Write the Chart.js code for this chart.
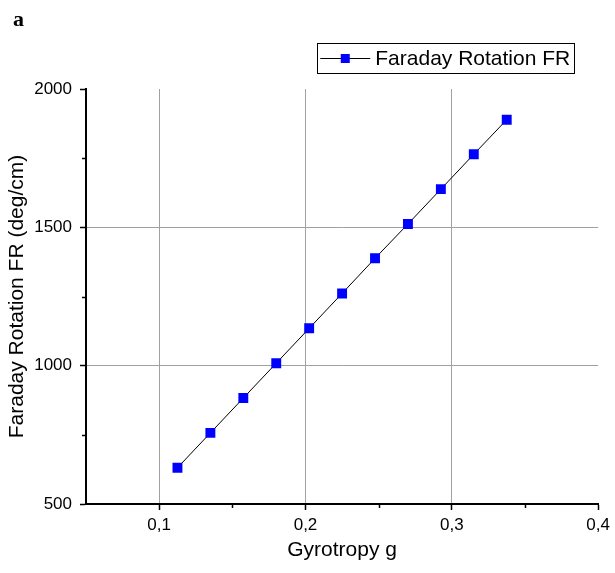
<!DOCTYPE html>
<html>
<head>
<meta charset="utf-8">
<script src="https://cdn.jsdelivr.net/npm/chart.js@4"></script>
<style>
  html, body { margin: 0; padding: 0; background: #fff; }
  #wrap { width: 615px; height: 573px; }
</style>
</head>
<body>
<div id="wrap"><canvas id="faradayChart"></canvas></div>
<script>
// values
const gyrotropy = [0.1125, 0.135, 0.1575, 0.18, 0.2025, 0.225, 0.2475, 0.27, 0.2925, 0.315, 0.3375];
const faradayRotation = [631, 757, 883, 1009, 1135, 1261, 1388, 1512, 1638, 1764, 1889];
const xMajorTicks = [0.1, 0.2, 0.3, 0.4];
const xMinorTicks = [0.15, 0.25, 0.35];
const yMajorTicks = [500, 1000, 1500, 2000];
const yMinorTicks = [750, 1250, 1750];
const seriesLabel = 'Faraday Rotation FR';
const panelLabel = 'a';

const sans = "'Liberation Sans', Arial, sans-serif";
const gridGray = '#a0a0a0';

// minor ticks, boxed legend and panel letter
const extras = {
  id: 'extras',
  afterDraw(chart) {
    const ctx = chart.ctx;
    const xs = chart.scales.x, ys = chart.scales.y;
    ctx.save();
    ctx.strokeStyle = '#000';
    ctx.lineWidth = 1.5;
    xMinorTicks.forEach(v => {
      const px = Math.round(xs.getPixelForValue(v)) + 0.5;
      ctx.beginPath();
      ctx.moveTo(px, ys.bottom);
      ctx.lineTo(px, ys.bottom + 4);
      ctx.stroke();
    });
    yMinorTicks.forEach(v => {
      const py = Math.round(ys.getPixelForValue(v)) + 0.5;
      ctx.beginPath();
      ctx.moveTo(xs.left, py);
      ctx.lineTo(xs.left - 4, py);
      ctx.stroke();
    });

    // legend
    ctx.font = '21px ' + sans;
    const tw = ctx.measureText(seriesLabel).width;
    const boxR = chart.chartArea.right - 24, boxT = 43, boxH = 30;
    const sample = 50;
    const boxL = boxR - tw - sample - 12;
    ctx.lineWidth = 1;
    ctx.strokeStyle = '#000';
    ctx.strokeRect(Math.round(boxL) + 0.5, boxT + 0.5, Math.round(boxR - boxL), boxH);
    const my = boxT + boxH / 2 + 0.5;
    ctx.beginPath();
    ctx.moveTo(boxL + 3, my);
    ctx.lineTo(boxL + 3 + sample, my);
    ctx.stroke();
    ctx.fillStyle = '#0000ff';
    ctx.fillRect(boxL + 3 + sample / 2 - 4.5, my - 4.5, 9, 9);
    ctx.fillStyle = '#000';
    ctx.textBaseline = 'middle';
    ctx.textAlign = 'left';
    ctx.fillText(seriesLabel, boxL + sample + 8, my + 1);

    // panel letter
    ctx.font = "bold 22px 'Liberation Serif', 'Times New Roman', serif";
    ctx.textBaseline = 'alphabetic';
    ctx.fillText(panelLabel, 13, 26);
    ctx.restore();
  }
};

new Chart(document.getElementById('faradayChart'), {
  type: 'line',
  data: {
    datasets: [{
      label: seriesLabel,
      data: gyrotropy.map((g, i) => ({ x: g, y: faradayRotation[i] })),
      borderColor: '#000',
      borderWidth: 1,
      backgroundColor: '#0000ff',
      pointStyle: 'rect',
      pointRadius: 7,
      pointHoverRadius: 7,
      pointBorderWidth: 0,
      pointBackgroundColor: '#0000ff',
      tension: 0
    }]
  },
  options: {
    responsive: true,
    maintainAspectRatio: false,
    animation: false,
    layout: { padding: { left: 5, right: 11, top: 89, bottom: 6 } },
    plugins: {
      legend: { display: false },
      tooltip: { enabled: false }
    },
    scales: {
      x: {
        type: 'linear',
        min: 0.05,
        max: 0.4,
        afterBuildTicks: s => { s.ticks = xMajorTicks.map(v => ({ value: v })); },
        afterFit: s => { s.height = 63; },
        border: { display: true, color: '#000', width: 2 },
        grid: {
          color: c => (c.tick && c.tick.value > 0.05 && c.tick.value < 0.4) ? gridGray : 'rgba(0,0,0,0)',
          lineWidth: 1,
          drawTicks: true,
          tickLength: 6,
          tickColor: '#000',
          tickWidth: 1.5
        },
        ticks: {
          color: '#000',
          padding: 5,
          maxRotation: 0,
          font: { family: sans, size: 17 },
          callback: v => v.toFixed(1).replace('.', ',')
        },
        title: {
          display: true,
          text: 'Gyrotropy g',
          color: '#000',
          font: { family: sans, size: 21 },
          padding: { top: 0, bottom: 4 }
        }
      },
      y: {
        type: 'linear',
        min: 500,
        max: 2000,
        afterBuildTicks: s => { s.ticks = yMajorTicks.map(v => ({ value: v })); },
        afterFit: s => { s.width = 81; },
        border: { display: true, color: '#000', width: 2 },
        grid: {
          color: c => (c.tick && c.tick.value > 500 && c.tick.value < 2000) ? gridGray : 'rgba(0,0,0,0)',
          lineWidth: 1,
          drawTicks: true,
          tickLength: 6,
          tickColor: '#000',
          tickWidth: 1.5
        },
        ticks: {
          color: '#000',
          padding: 8,
          font: { family: sans, size: 17 },
          callback: v => String(v)
        },
        title: {
          display: true,
          text: 'Faraday Rotation FR (deg/cm)',
          color: '#000',
          font: { family: sans, size: 21 },
          padding: { top: 0, bottom: 0 }
        }
      }
    }
  },
  plugins: [extras]
});
</script>
</body>
</html>
